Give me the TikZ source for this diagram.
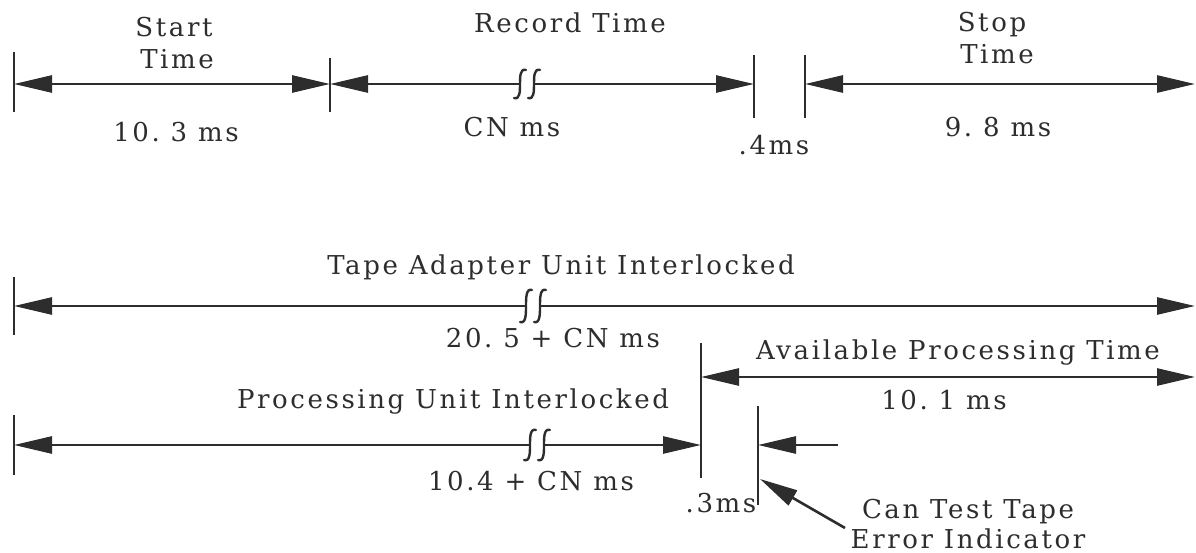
\documentclass[tikz,border=0pt]{standalone}
\usepackage{fontspec}
\setmainfont{DejaVu Serif}[LetterSpace=10]
\usetikzlibrary{arrows.meta}
\definecolor{ink}{RGB}{45,45,45}
\tikzset{
  >={Triangle[length=38pt,width=17pt]},
  dimline/.style={line width=2.6pt, draw=ink},
  tickline/.style={line width=2.8pt, draw=ink},
  brkline/.style={line width=2.4pt, draw=ink, line cap=round},
  lbl/.style={font=\fontsize{26}{31}\selectfont, text=ink, inner sep=0pt, anchor=base},
}
\newcommand{\brkmark}[3]{%
  \begin{scope}[shift={(#1,#2)}]
    \draw[brkline] (-1,-#3) .. controls (-7,-#3-2) and (-7,-#3/2) .. (-7,0) .. controls (-7,#3/2) and (-7,#3+2) .. (-13,#3);
    \draw[brkline] (13,-#3) .. controls (7,-#3-2) and (7,-#3/2) .. (7,0) .. controls (7,#3/2) and (7,#3+2) .. (1,#3);
  \end{scope}}
\begin{document}
\frenchspacing
\begin{tikzpicture}[x=1pt,y=-1pt]
\useasboundingbox (0,0) rectangle (1196,553);
% ---- row 1
\coordinate (r1a) at (14,84);
\coordinate (r1b) at (330,84);
\coordinate (r1c) at (754,84);
\coordinate (r1d) at (805,84);
\coordinate (r1e) at (1195,84);
\coordinate (b1l) at (520,84);
\coordinate (b1r) at (534,84);
\draw[tickline] (14,52) -- (14,112);
\draw[tickline] (330,58) -- (330,112);
\draw[tickline] (754,55) -- (754,118);
\draw[tickline] (805,55) -- (805,118);
\draw[dimline,<->] (r1a) -- (r1b);
\draw[dimline,<-] (r1b) -- (b1l);
\draw[dimline,->] (b1r) -- (r1c);
\draw[dimline,<->] (r1d) -- (r1e);
\brkmark{527}{84}{14}
\node[lbl] (st1) at (174,37) {Start};
\node[lbl] (st2) at (177,69) {Time};
\node[lbl] (st3) at (176,142) {10. 3 ms};
\node[lbl] (rt1) at (570,33) {Record Time};
\node[lbl] (rt2) at (512,137) {CN ms};
\node[lbl] (gap1) at (774,155) {.4ms};
\node[lbl] (sp1) at (992,32) {Stop};
\node[lbl] (sp2) at (997,64) {Time};
\node[lbl] (sp3) at (998,137) {9. 8 ms};
% ---- row 2
\coordinate (r2a) at (14,306);
\coordinate (r2e) at (1195,306);
\coordinate (b2l) at (526,306);
\coordinate (b2r) at (540,306);
\draw[tickline] (14,277) -- (14,335);
\draw[dimline,<-] (r2a) -- (b2l);
\draw[dimline,->] (b2r) -- (r2e);
\brkmark{533}{306}{16}
\node[lbl] (tau) at (561,275) {Tape Adapter Unit Interlocked};
\node[lbl] (tav) at (553,347) {20. 5 + CN ms};
% ---- row 3
\coordinate (r3a) at (701,377);
\coordinate (r3e) at (1195,377);
\draw[tickline] (701,343) -- (701,478);
\draw[dimline,<->] (r3a) -- (r3e);
\node[lbl] (apt) at (958,359) {Available Processing Time};
\node[lbl] (apv) at (944,409) {10. 1 ms};
% ---- row 4
\coordinate (r4a) at (14,445);
\coordinate (r4e) at (701,445);
\coordinate (b4l) at (530,445);
\coordinate (b4r) at (544,445);
\draw[tickline] (14,415) -- (14,475);
\draw[dimline,<-] (r4a) -- (b4l);
\draw[dimline,->] (b4r) -- (r4e);
\brkmark{537}{445}{15}
\node[lbl] (pui) at (453,408) {Processing Unit Interlocked};
\node[lbl] (puv) at (531,490) {10.4 + CN ms};
% ---- tape error indicator
\draw[tickline] (758,406) -- (758,505);
\coordinate (t2m) at (758,445);
\coordinate (sa) at (838,445);
\draw[dimline,->] (sa) -- (t2m);
\node[lbl] (gap2) at (721,512) {.3ms};
\node[lbl] (ct1) at (968,518) {Can Test Tape};
\node[lbl] (ct2) at (968,548) {Error Indicator};
\coordinate (ctail) at (845,528);
\coordinate (ctip) at (760,479);
\draw[dimline,->] (ctail) -- (ctip);
\end{tikzpicture}
\end{document}
